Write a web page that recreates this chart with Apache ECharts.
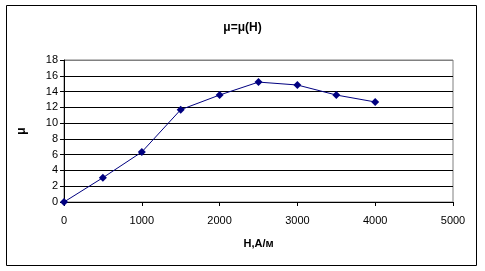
<!DOCTYPE html>
<html><head><meta charset="utf-8">
<script src="https://cdn.jsdelivr.net/npm/echarts@6/dist/echarts.min.js"></script>
<style>html,body{margin:0;padding:0;background:#fff}#c{width:485px;height:271px}</style>
</head><body><div id="c"></div>
<script>
const hValues = [0, 500, 1000, 1500, 2000, 2500, 3000, 3500, 4000];
const muValues = [0, 3.08, 6.34, 11.7, 13.56, 15.2, 14.83, 13.56, 12.68];
const chartTitle = 'μ=μ(H)';
const xName = 'H,A/м';
const yName = 'μ';
const chart = echarts.init(document.getElementById('c'), null, {renderer: 'canvas'});
const font = 'Liberation Sans, Arial, sans-serif';
chart.setOption({
  animation: false,
  title: {text: chartTitle, left: 'center', top: 17, textStyle: {fontFamily: font, fontSize: 12, fontWeight: 'bold', color: '#000'}},
  graphic: [{type: 'rect', shape: {x: 6.5, y: 5.5, width: 470, height: 260}, style: {fill: 'none', stroke: '#000', lineWidth: 1}, z: -1}],
  grid: {left: 64, right: 32, top: 60, bottom: 69, show: true, borderColor: '#808080', borderWidth: 1},
  xAxis: {type: 'value', min: 0, max: 5000, interval: 1000,
    name: xName, nameLocation: 'middle', nameGap: 36,
    nameTextStyle: {fontFamily: font, fontSize: 11, fontWeight: 'bold', color: '#000'},
    axisLine: {onZero: false, lineStyle: {color: '#000'}},
    axisTick: {show: true, inside: false, length: 4, lineStyle: {color: '#000'}},
    axisLabel: {fontFamily: font, fontSize: 11, color: '#000', margin: 13, formatter: v => String(v)},
    splitLine: {show: false}},
  yAxis: {type: 'value', min: 0, max: 18, interval: 2,
    name: yName, nameLocation: 'middle', nameGap: 36, nameRotate: 90,
    nameTextStyle: {fontFamily: font, fontSize: 12, fontWeight: 'bold', color: '#000'},
    axisLine: {show: true, lineStyle: {color: '#000'}},
    axisTick: {show: true, inside: false, length: 4, lineStyle: {color: '#000'}},
    axisLabel: {fontFamily: font, fontSize: 11, color: '#000', margin: 6, formatter: v => String(v)},
    splitLine: {show: true, lineStyle: {color: ['#000','#000','#000','#000','#000','#000','#000','#000','#000','#808080'], width: 1}}},
  series: [{type: 'line', data: hValues.map((h, i) => [h, muValues[i]]),
    symbol: 'diamond', symbolSize: 8, itemStyle: {color: '#000080'},
    lineStyle: {color: '#000080', width: 1}}]
});
</script></body></html>
